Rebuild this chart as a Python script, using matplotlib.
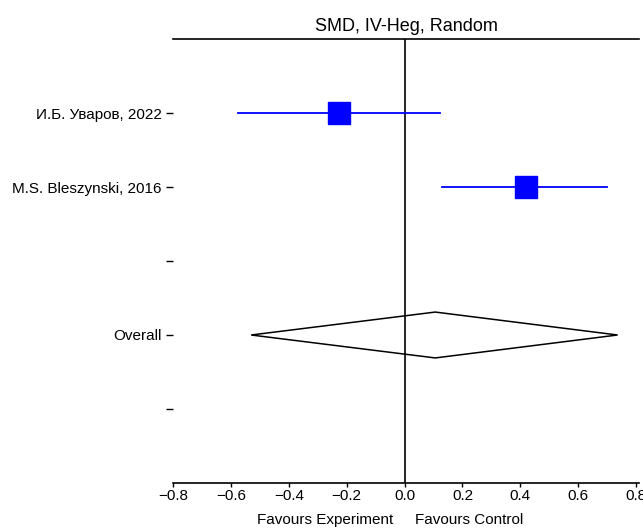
import matplotlib.pyplot as plt

plt.rcParams['font.family'] = ['Liberation Sans', 'DejaVu Sans']

studies = ['И.Б. Уваров, 2022', 'M.S. Bleszynski, 2016']
smd = [-0.225, 0.418]
lower = [-0.574, 0.131]
upper = [0.124, 0.70]

overall_est = 0.106
overall_lo = -0.53
overall_hi = 0.736

ytick_labels = ['И.Б. Уваров, 2022', 'M.S. Bleszynski, 2016', '', 'Overall', '']
xticks = [-0.8, -0.6, -0.4, -0.2, 0.0, 0.2, 0.4, 0.6, 0.8]

fig = plt.figure(figsize=(6.43, 5.29), dpi=100)
ax = fig.add_axes([173 / 643, 46 / 529, 466 / 643, 444 / 529])

for i in range(len(studies)):
    y = i + 1
    ax.plot([lower[i], upper[i]], [y, y], color='#0000ff', lw=1.3, zorder=2)
    ax.plot(smd[i], y, marker='s', color='#0000ff', markersize=16, zorder=3)

# overall diamond
dy = 0.31
ax.fill([overall_lo, overall_est, overall_hi, overall_est],
        [4, 4 - dy, 4, 4 + dy], facecolor='none', edgecolor='black', lw=1.1, zorder=3)

ax.axvline(0, color='black', lw=1.2, zorder=1)

ax.set_xlim(-0.8, 0.81)
ax.set_ylim(6, 0)
ax.set_yticks(range(1, 6))
ax.set_yticklabels(ytick_labels, fontsize=11)
ax.set_xticks(xticks)
ax.set_xticklabels([f'{v:.1f}'.replace('-', '\u2212') for v in xticks], fontsize=11)
ax.tick_params(axis='y', length=5, width=1, pad=3)
ax.tick_params(axis='x', length=3, width=1, pad=1.5)

ax.spines['left'].set_visible(False)
ax.spines['right'].set_visible(False)
ax.spines['top'].set_linewidth(1.2)
ax.spines['bottom'].set_linewidth(1.2)

ax.set_title('SMD, IV-Heg, Random', fontsize=13, pad=6)

ax.text(-0.04, -0.083, 'Favours Experiment', transform=ax.get_xaxis_transform(),
        ha='right', va='center', fontsize=11)
ax.text(0.035, -0.083, 'Favours Control', transform=ax.get_xaxis_transform(),
        ha='left', va='center', fontsize=11)

fig.savefig('out.png', dpi=100)
